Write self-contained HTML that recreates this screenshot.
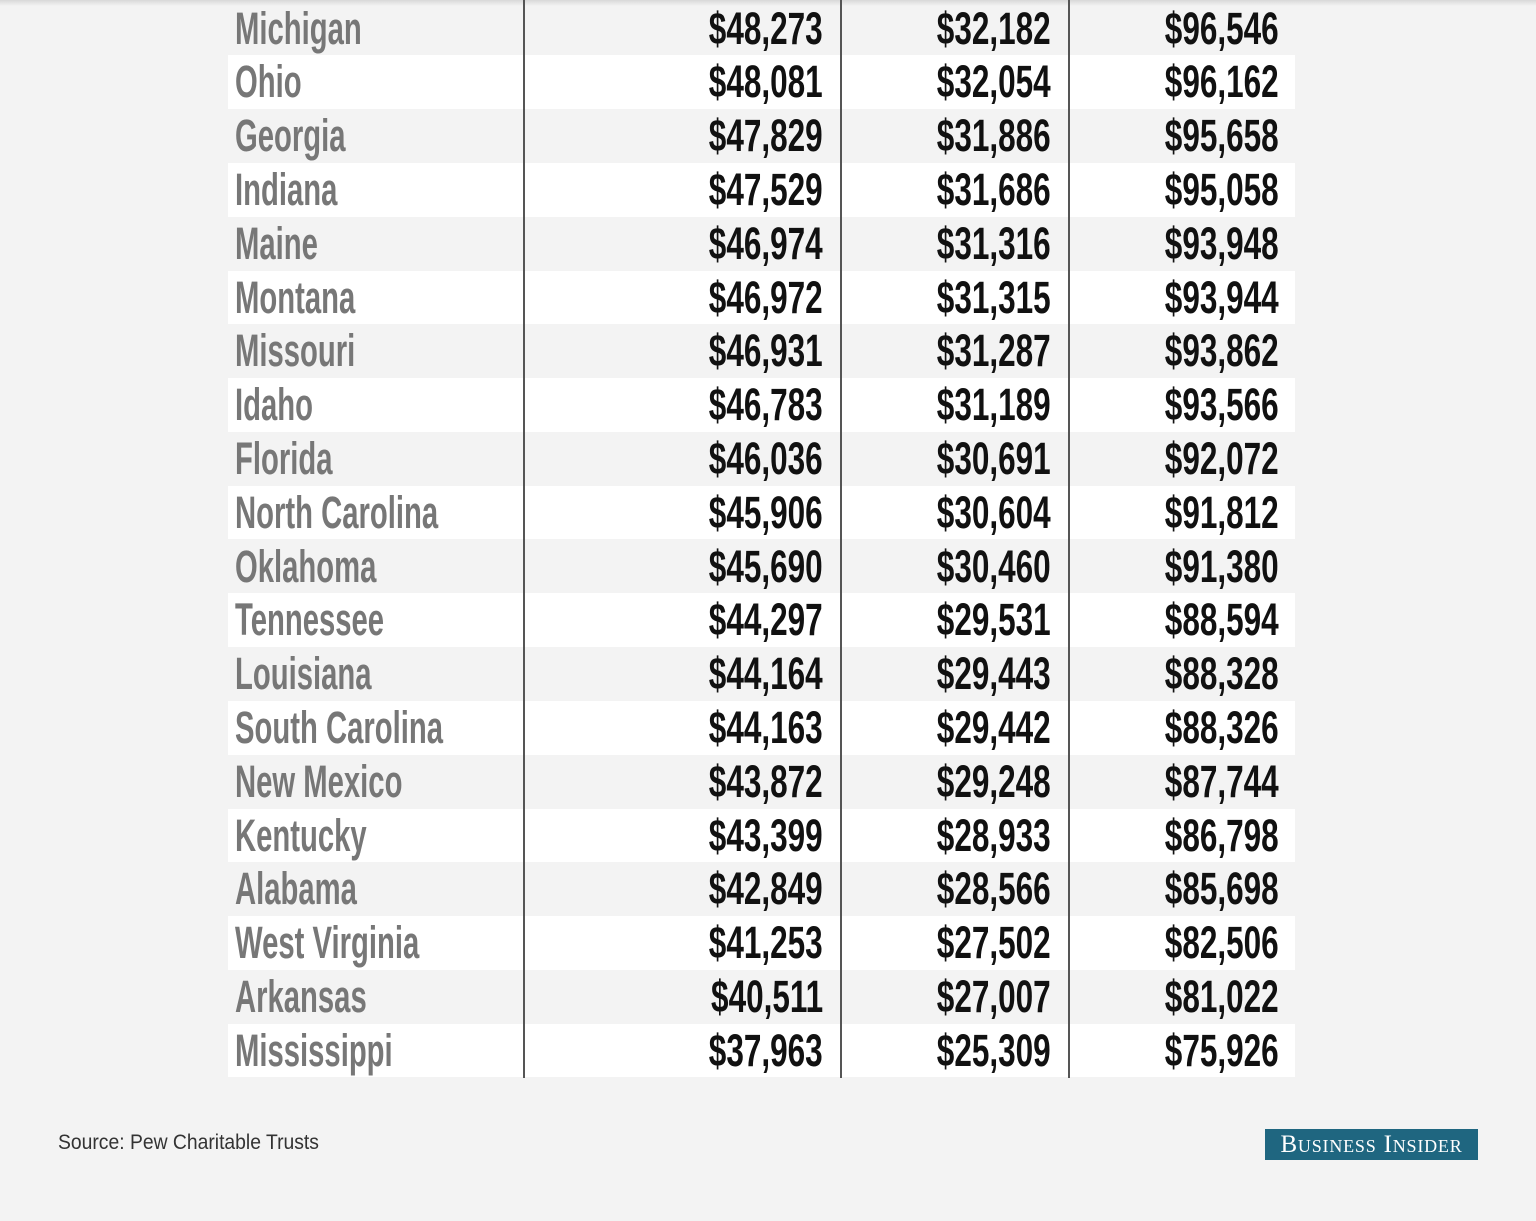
<!DOCTYPE html>
<html><head><style>
html,body{margin:0;padding:0;}
body{width:1536px;height:1221px;background:#f3f3f3;position:relative;overflow:hidden;font-family:"Liberation Sans Narrow","Liberation Sans",sans-serif;}
.shadow{position:absolute;left:0;top:0;width:1536px;height:6px;background:linear-gradient(#d8d8d8,#f3f3f3);}
.row{position:absolute;left:228px;width:1067px;height:53.8px;}
.row.w{background:#fff;}
.t{position:absolute;top:0;height:53.8px;line-height:54px;font-weight:bold;font-size:45px;white-space:nowrap;}
.n{left:7px;color:#777;transform:scaleX(0.65);transform-origin:left center;}
.v{color:#111;transform:scaleX(0.70);transform-origin:right center;text-align:right;}
.vl{position:absolute;top:0;width:2px;height:1078px;background:#555;}
.src{position:absolute;left:58px;top:1131px;font-size:21px;color:#333;transform:scaleX(0.92);transform-origin:left center;white-space:nowrap;}
.bi{position:absolute;left:1265px;top:1129px;width:213px;height:31px;background:#1f6680;color:#fff;font-family:"Liberation Serif",serif;font-variant:small-caps;font-size:25px;line-height:31px;text-align:center;letter-spacing:0.8px;white-space:nowrap;}
</style></head><body>
<div class="shadow"></div>
<div id="t"></div>
<script>
var d=[["Michigan","$48,273","$32,182","$96,546"],["Ohio","$48,081","$32,054","$96,162"],["Georgia","$47,829","$31,886","$95,658"],["Indiana","$47,529","$31,686","$95,058"],["Maine","$46,974","$31,316","$93,948"],["Montana","$46,972","$31,315","$93,944"],["Missouri","$46,931","$31,287","$93,862"],["Idaho","$46,783","$31,189","$93,566"],["Florida","$46,036","$30,691","$92,072"],["North Carolina","$45,906","$30,604","$91,812"],["Oklahoma","$45,690","$30,460","$91,380"],["Tennessee","$44,297","$29,531","$88,594"],["Louisiana","$44,164","$29,443","$88,328"],["South Carolina","$44,163","$29,442","$88,326"],["New Mexico","$43,872","$29,248","$87,744"],["Kentucky","$43,399","$28,933","$86,798"],["Alabama","$42,849","$28,566","$85,698"],["West Virginia","$41,253","$27,502","$82,506"],["Arkansas","$40,511","$27,007","$81,022"],["Mississippi","$37,963","$25,309","$75,926"]];
var h="";
d.forEach(function(r,i){
var top=1.5+i*53.8;
h+='<div class="row'+(i%2?' w':'')+'" style="top:'+top+'px">'+
'<div class="t n">'+r[0]+'</div>'+
'<div class="t v" style="right:'+(1295-823)+'px">'+r[1]+'</div>'+
'<div class="t v" style="right:'+(1295-1051)+'px">'+r[2]+'</div>'+
'<div class="t v" style="right:'+(1295-1279)+'px">'+r[3]+'</div></div>';
});
document.getElementById("t").innerHTML=h;
</script>
<div class="vl" style="left:523px"></div>
<div class="vl" style="left:840px"></div>
<div class="vl" style="left:1068px"></div>
<div class="src">Source: Pew Charitable Trusts</div>
<div class="bi">Business Insider</div>
</body></html>
